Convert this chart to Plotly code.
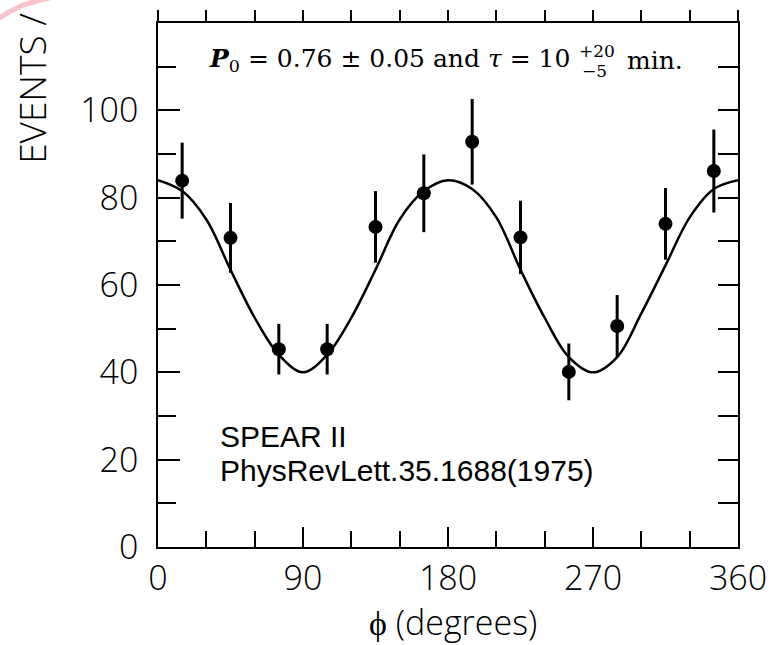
import plotly.graph_objects as go

# ---- data ----
phi_bins = [15, 45, 75, 105, 135, 165, 195, 225, 255, 285, 315, 345]
events = [83.9, 70.8, 45.3, 45.3, 73.3, 81.0, 92.8, 70.9, 40.1, 50.6, 74.0, 86.1]
event_err = [8.7, 8.0, 5.8, 5.8, 8.2, 8.9, 9.8, 8.4, 6.5, 7.1, 8.2, 9.5]

fit_phi = [0, 15, 30, 45, 60, 75, 90, 105, 120, 135, 150, 165, 180,
           195, 210, 225, 240, 255, 270, 285, 300, 315, 330, 345, 360]
fit_events = [84.0, 81.5, 75.0, 63.5, 52.5, 44.0, 40.0, 44.0, 52.5, 63.5, 75.0, 81.5, 84.0,
              82.0, 75.5, 63.5, 52.5, 43.5, 40.0, 43.5, 53.5, 64.5, 75.5, 82.0, 84.0]

x_tick_vals = [0, 90, 180, 270, 360]
x_tick_text = ["0", "90", "180", "270", "360"]
y_tick_vals = [0, 20, 40, 60, 80, 100]
y_tick_text = ["0", "20", "40", "60", "80", "100"]

W, H = 779, 645
ML, MR, MT, MB = 158, 37, 23, 98
PW, PH = W - ML - MR, H - MT - MB


def dx(px):
    return (px - ML) / PW * 360


def dy(py):
    return (H - MB - py) / PH * 120


def px_(px):
    return (px - ML) / PW


def py_(py):
    return (H - MB - py) / PH


fig = go.Figure()

fig.add_trace(go.Scatter(
    x=fit_phi, y=fit_events, mode="lines",
    line=dict(color="black", width=2.5, shape="spline", smoothing=1.0),
    showlegend=False, hoverinfo="skip"))

fig.add_trace(go.Scatter(
    x=phi_bins, y=events, mode="markers",
    marker=dict(color="black", size=14),
    error_y=dict(type="data", array=event_err, color="black", thickness=3, width=0),
    showlegend=False))

# helper trace for top / right frame axes
fig.add_trace(go.Scatter(x=[None], y=[None], xaxis="x2", yaxis="y2",
                         showlegend=False, hoverinfo="skip"))

tick_font = dict(family="Open Sans", size=34, color="black", weight=300)

fig.update_layout(
    width=W, height=H,
    margin=dict(l=ML, r=MR, t=MT, b=MB),
    paper_bgcolor="white", plot_bgcolor="white",
    xaxis=dict(range=[0, 360], tickvals=x_tick_vals, ticktext=x_tick_text,
               ticks="inside", ticklen=20, tickwidth=1.5, tickcolor="black",
               minor=dict(tickvals=[30, 60, 120, 150, 210, 240, 300, 330],
                          ticks="inside", ticklen=16, tickwidth=1.5, tickcolor="black"),
               showline=True, linecolor="black", linewidth=1.5,
               showgrid=False, zeroline=False, tickfont=tick_font,
               ticklabelstandoff=0),
    yaxis=dict(range=[0, 120], tickvals=y_tick_vals, ticktext=y_tick_text,
               ticks="inside", ticklen=22, tickwidth=1.5, tickcolor="black",
               minor=dict(tickvals=[10, 30, 50, 70, 90, 110],
                          ticks="inside", ticklen=18, tickwidth=1.5, tickcolor="black"),
               showline=True, linecolor="black", linewidth=1.5,
               showgrid=False, zeroline=False, tickfont=tick_font,
               ticklabelstandoff=11),
    xaxis2=dict(range=[0, 360], overlaying="x", side="top", anchor="y2",
                tickvals=list(range(0, 361, 30)), ticks="outside", ticklen=11,
                tickwidth=1.5, tickcolor="black", showticklabels=False,
                showline=True, linecolor="black", linewidth=1.5,
                showgrid=False, zeroline=False),
    yaxis2=dict(range=[0, 120], overlaying="y", side="right", anchor="x2",
                tickvals=list(range(0, 121, 10)), ticks="inside", ticklen=20,
                tickwidth=1.5, tickcolor="black", showticklabels=False,
                showline=True, linecolor="black", linewidth=1.5,
                showgrid=False, zeroline=False),
)

serif = dict(family="DejaVu Serif", size=25, color="black")
small_serif = dict(family="DejaVu Serif", size=17, color="black")
annos = [
    dict(x=dx(207), y=dy(60), xref="x", yref="y", xanchor="left", yanchor="middle",
         text="<b><i>P</i></b><sub>0</sub> = 0.76 ± 0.05 and <i>τ</i> = 10",
         font=serif, showarrow=False),
    dict(x=dx(580), y=dy(51), xref="x", yref="y", xanchor="left", yanchor="middle",
         text="+20", font=small_serif, showarrow=False),
    dict(x=dx(583), y=dy(71), xref="x", yref="y", xanchor="left", yanchor="middle",
         text="−5", font=small_serif, showarrow=False),
    dict(x=dx(628), y=dy(60), xref="x", yref="y", xanchor="left", yanchor="middle",
         text="min.", font=serif, showarrow=False),
    dict(x=dx(218), y=dy(436), xref="x", yref="y", xanchor="left", yanchor="middle",
         text="SPEAR II", font=dict(family="Liberation Sans", size=30, color="black"),
         showarrow=False),
    dict(x=dx(218), y=dy(470), xref="x", yref="y", xanchor="left", yanchor="middle",
         text="PhysRevLett.35.1688(1975)",
         font=dict(family="Liberation Sans", size=30, color="black"), showarrow=False),
    dict(x=px_(455), y=py_(622), xref="paper", yref="paper", xanchor="center", yanchor="middle",
         text="ϕ (degrees)", font=dict(family="Open Sans", size=34, color="black", weight=300),
         showarrow=False),
    dict(x=px_(31), y=py_(88), xref="paper", yref="paper", xanchor="center", yanchor="middle",
         text="EVENTS /", textangle=-90,
         font=dict(family="Open Sans", size=37, color="black", weight=300), showarrow=False),
]
fig.update_layout(annotations=annos)

# faint pink swoosh fragment in the top-left corner
arc_pts = [(-5, 20), (8, 12), (22, 5), (36, 1), (52, -3)]
for (a0, b0), (a1, b1) in zip(arc_pts[:-1], arc_pts[1:]):
    fig.add_shape(type="line", xref="paper", yref="paper",
                  x0=px_(a0), y0=py_(b0), x1=px_(a1), y1=py_(b1),
                  line=dict(color="#f6c3c9", width=5))

fig.write_html("out.html")
